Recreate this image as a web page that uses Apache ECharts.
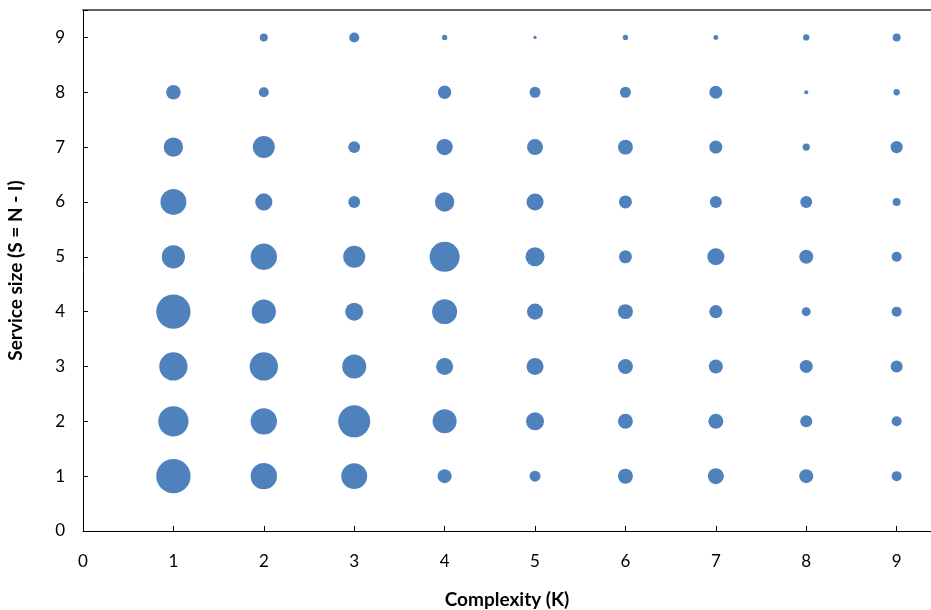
<!DOCTYPE html>
<html>
<head>
<meta charset="utf-8">
<script src="https://cdn.jsdelivr.net/npm/echarts@6/dist/echarts.min.js"></script>
<style>html,body{margin:0;padding:0;background:#fff;}#c{width:931px;height:610px;}</style>
</head>
<body>
<div id="c"></div>
<script>
// Service size S = 1..9 (rows); complexity K = 1..9 (columns)
var serviceSizes = [1, 2, 3, 4, 5, 6, 7, 8, 9];
var complexities = [1, 2, 3, 4, 5, 6, 7, 8, 9];
// Bubble sizes (relative, area-proportional) per complexity column, indexed by S = 1..9
var sizeK1 = [100, 78, 68, 100, 46, 57, 32, 18, null];
var sizeK2 = [59, 59, 68, 50, 59, 25, 41, 8.5, 5.4];
var sizeK3 = [57, 87, 49, 27.5, 41, 12, 12, null, 8.5];
var sizeK4 = [16.7, 49, 24.6, 53, 76.5, 32, 22.6, 15, 2.4];
var sizeK5 = [10.3, 27.5, 24.6, 21.8, 30.7, 24.6, 21.8, 10.3, 0.93];
var sizeK6 = [19, 19, 19, 19, 14.4, 14.4, 19, 10.3, 2.4];
var sizeK7 = [21.8, 19, 16.7, 14.4, 24.6, 12.2, 14.4, 14.4, 2.1];
var sizeK8 = [16.7, 12.2, 14.4, 6.9, 16.7, 12.2, 4.5, 1.4, 3.4];
var sizeK9 = [8.5, 8.5, 12.2, 8.5, 8.5, 5.4, 12.9, 3.4, 5.4];
var xTicks = ['0', '1', '2', '3', '4', '5', '6', '7', '8', '9'];
var yTicks = ['0', '1', '2', '3', '4', '5', '6', '7', '8', '9'];

var columns = [sizeK1, sizeK2, sizeK3, sizeK4, sizeK5, sizeK6, sizeK7, sizeK8, sizeK9];
var data = [];
complexities.forEach(function (k, ci) {
  serviceSizes.forEach(function (s, si) {
    var v = columns[ci][si];
    if (v != null) data.push([k, s, v]);
  });
});

var font = 'Lato';
var chart = echarts.init(document.getElementById('c'), null, {renderer: 'canvas'});
chart.setOption({
  animation: false,
  backgroundColor: '#fff',
  grid: {left: 83, right: 0, top: 10, bottom: 79, containLabel: false, outerBoundsMode: 'none'},
  xAxis: [{
    type: 'value', min: 0, max: 9.38, interval: 1,
    name: 'Complexity (K)', nameLocation: 'middle', nameGap: 59,
    nameTextStyle: {fontFamily: font, fontWeight: 'bold', fontSize: 19, color: '#000'},
    axisLine: {show: true, lineStyle: {color: '#000', width: 1}},
    axisTick: {show: true, inside: true, length: 5, lineStyle: {color: '#000'}},
    axisLabel: {fontFamily: font, fontSize: 17, color: '#000', margin: 22,
      formatter: function (v) { return Number.isInteger(v) ? xTicks[v] : ''; }},
    splitLine: {show: false}
  }, {
    type: 'value', position: 'top', min: 0, max: 9.38,
    axisLine: {show: true, onZero: false, lineStyle: {color: '#333', width: 1.5}},
    axisTick: {show: false}, axisLabel: {show: false}, splitLine: {show: false}
  }],
  yAxis: {
    type: 'value', min: 0, max: 9.5, interval: 1,
    name: 'Service size (S = N - I)', nameLocation: 'middle', nameGap: 58, nameRotate: 90,
    nameTextStyle: {fontFamily: font, fontWeight: 'bold', fontSize: 19, color: '#000'},
    axisLine: {show: true, lineStyle: {color: '#000', width: 1}},
    axisTick: {show: true, inside: true, length: 5, lineStyle: {color: '#000'}},
    axisLabel: {fontFamily: font, fontSize: 17, color: '#000', margin: 18,
      formatter: function (v) { return Number.isInteger(v) ? yTicks[v] : ''; }},
    splitLine: {show: false}
  },
  series: [{
    type: 'scatter',
    xAxisIndex: 0,
    data: data,
    symbolSize: function (d) { return 3.43 * Math.sqrt(d[2]); },
    itemStyle: {color: '#4F81BD', opacity: 1},
    emphasis: {disabled: true}
  }]
});
</script>
</body>
</html>
